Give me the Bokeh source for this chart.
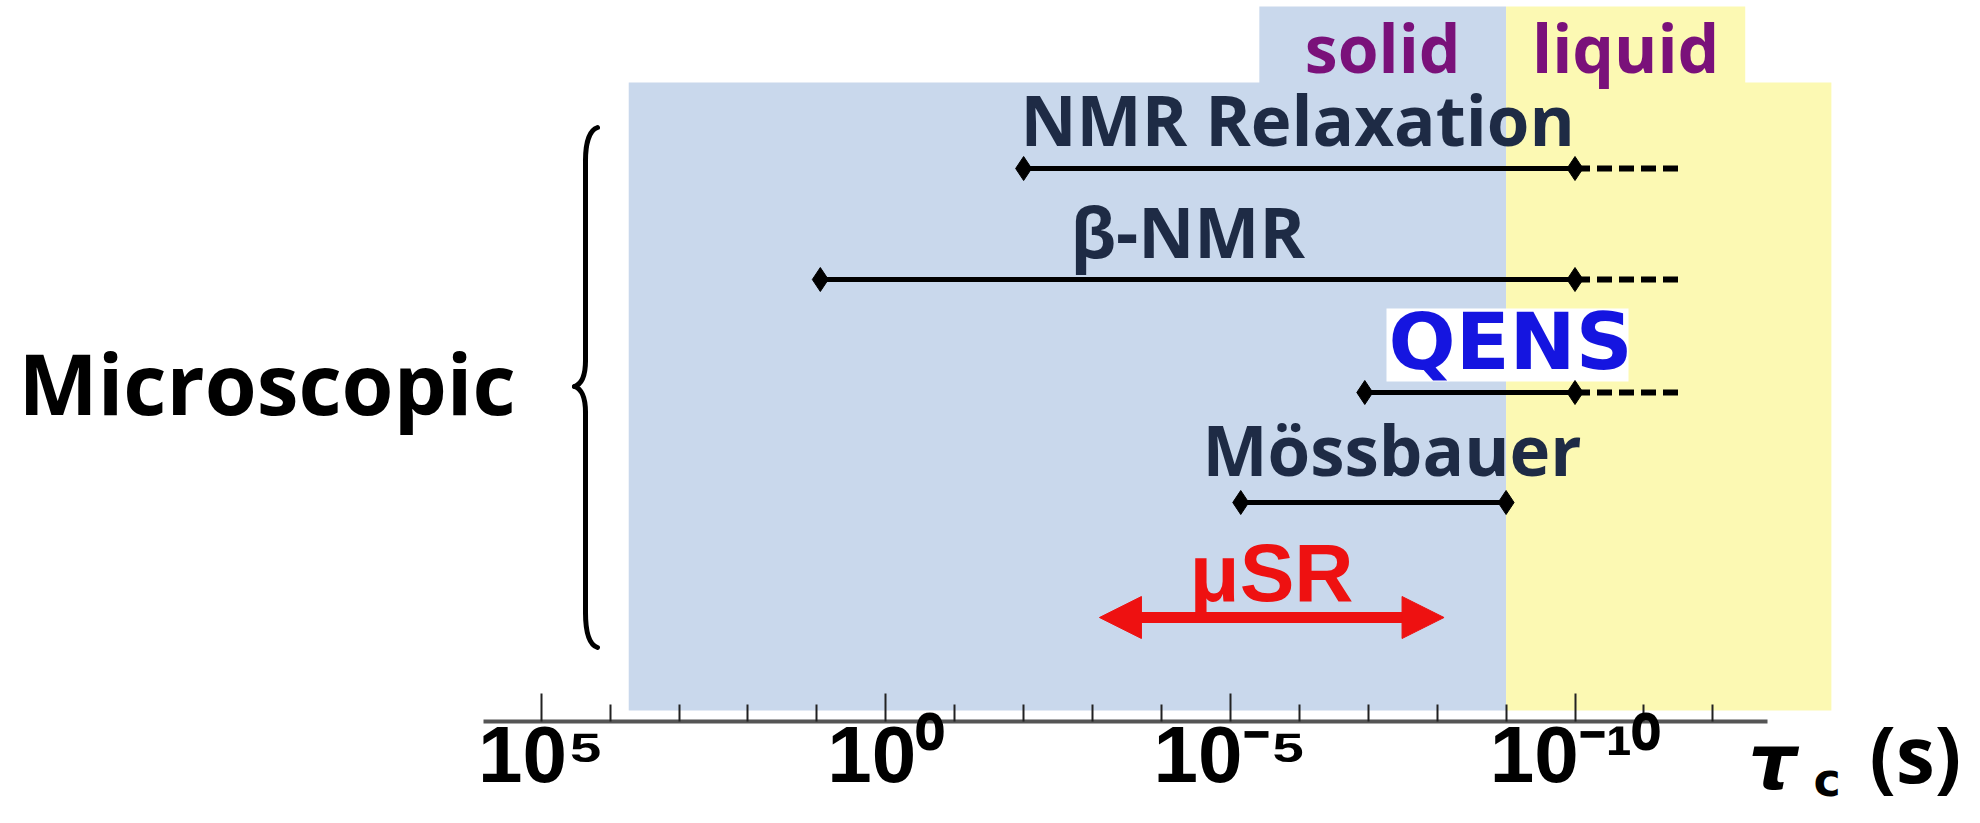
from bokeh.plotting import figure
from bokeh.models import Range1d, FixedTicker
from bokeh.core.properties import value
from bokeh.embed import file_html
from bokeh.resources import INLINE

# ---------------- data (log10 of correlation time tau_c in seconds) ----------------
techniques = ["NMR Relaxation", "β-NMR", "QENS", "Mössbauer", "μSR"]
log_tau_long = [-2.0, 0.95, -6.95, -5.15, -3.1]      # slow end of the window
log_tau_short = [-10.0, -10.0, -10.0, -9.0, -8.1]    # fast end of the window
log_tau_extended = [-11.55, -11.55, -11.5]           # dashed extension (first three)
phase_names = ["solid", "liquid"]
phase_from = [3.73, -9.0]
phase_to = [-9.0, -13.72]
phase_tab_from = [-5.42, -9.0]
phase_tab_to = [-9.0, -12.47]
major_tick_exponents = [5, 0, -5, -10]
minor_tick_exponents = [4, 3, 2, 1, -1, -2, -3, -4, -6, -7, -8, -9, -11, -12]
tick_labels = ["10⁵", "10⁰", "10⁻⁵", "10⁻¹⁰"]
axis_extent = [-12.79, 5.83]
axis_title = ["τ", "c", "(s)"]
group_label = "Microscopic"

# ---------------- layout helpers (pixel positions of the picture) ----------------
PX0, PX_PER_DEC = 540.7, 68.92
W, H = 1964, 807


def ex(px):
    return 5 - (px - PX0) / PX_PER_DEC


# text is placed by its vertical middle; convert a wanted baseline to that middle
MID = {"Open Sans": 0.388, "DejaVu Sans": 0.346, "Liberation Sans": 0.347}


def mid(baseline, size, font):
    return baseline - MID[font] * size


ROW_Y = [168, 279, 392, 502, 617]
LABEL_X = [1020, 1070, 1388, 1202, 1271]
LABEL_BASE = [145, 257, 369, 475, 600]
AXIS_Y = 721
HEAD_LEN = 42 / PX_PER_DEC   # arrow head length (in decades)
HEAD_HALF = 21               # arrow head half width (px)
NAVY = "#1e2b45"
BLUE_BG = "#c9d8ec"
YELLOW_BG = "#fcf9b3"
PURPLE = "#7a117a"
RED = "#ee1111"

p = figure(width=W, height=H,
           x_range=Range1d(ex(0), ex(W)), y_range=Range1d(H, 0),
           output_backend="svg", toolbar_location=None, y_axis_location=None,
           min_border_left=0, min_border_right=0, min_border_top=0, min_border_bottom=0,
           outline_line_color=None, background_fill_color="white", border_fill_color="white")
p.xgrid.visible = False
p.ygrid.visible = False


def label(xs, bases, texts, font, size, color, align="left", style="bold"):
    p.text(x=xs, y=[mid(b, size, font) for b in bases], text=texts,
           text_font=value(font), text_font_style=style, text_font_size=f"{size}px",
           text_color=color, text_align=align, text_baseline="middle")


# phase regions
p.quad(left=phase_from, right=phase_to, top=82, bottom=710,
       fill_color=[BLUE_BG, YELLOW_BG], line_color=None)
p.quad(left=phase_tab_from, right=phase_tab_to, top=6, bottom=83,
       fill_color=[BLUE_BG, YELLOW_BG], line_color=None)
label([(a + b) / 2 for a, b in zip(phase_tab_from, phase_tab_to)], [72, 72],
      phase_names, "Open Sans", 66, PURPLE, align="center")

# white box behind QENS
p.quad(left=[ex(1386)], right=[ex(1628)], top=[308], bottom=[381],
       fill_color="white", line_color=None)

# ranges
n4 = 4
p.segment(x0=log_tau_long[:n4], x1=log_tau_short[:n4], y0=ROW_Y[:n4], y1=ROW_Y[:n4],
          line_color="black", line_width=5)
p.segment(x0=log_tau_short[:3], x1=log_tau_extended, y0=ROW_Y[:3], y1=ROW_Y[:3],
          line_color="black", line_width=6, line_dash="15 7")
p.scatter(x=log_tau_long[:n4] + log_tau_short[:n4], y=ROW_Y[:n4] + ROW_Y[:n4],
          marker="diamond", size=24, color="black")

# muSR double arrow (shaft + two heads built from the window ends)
mu_long, mu_short, mu_y = log_tau_long[4], log_tau_short[4], ROW_Y[4]
p.segment(x0=[mu_long - HEAD_LEN * 0.9], x1=[mu_short + HEAD_LEN * 0.9], y0=[mu_y], y1=[mu_y],
          line_color=RED, line_width=11)
p.patches(xs=[[mu_long, mu_long - HEAD_LEN, mu_long - HEAD_LEN],
              [mu_short, mu_short + HEAD_LEN, mu_short + HEAD_LEN]],
          ys=[[mu_y, mu_y - HEAD_HALF, mu_y + HEAD_HALF],
              [mu_y, mu_y - HEAD_HALF, mu_y + HEAD_HALF]],
          fill_color=RED, line_color=RED, line_width=1)

# technique labels
label([ex(LABEL_X[0]), ex(LABEL_X[1]), ex(LABEL_X[3])],
      [LABEL_BASE[0], LABEL_BASE[1], LABEL_BASE[3]],
      [techniques[0], techniques[1], techniques[3]], "Open Sans", 69, NAVY)
label([ex(LABEL_X[2])], [LABEL_BASE[2]], [techniques[2]], "DejaVu Sans", 79, "#1515e0")
label([ex(LABEL_X[4])], [LABEL_BASE[4]], [techniques[4]], "Liberation Sans", 82, RED,
      align="center")

# group label and brace
label([ex(18)], [415], [group_label], "Open Sans", 84, "black")
p.bezier(x0=[ex(597), ex(585), ex(574), ex(585)], y0=[127, 360, 386, 612],
         x1=[ex(585), ex(574), ex(585), ex(597)], y1=[160, 386, 412, 647],
         cx0=[ex(588), ex(585), ex(580), ex(585)], cy0=[130, 378, 388, 630],
         cx1=[ex(585), ex(580), ex(585), ex(588)], cy1=[145, 384, 394, 644],
         line_color="black", line_width=5, line_cap="round")
p.segment(x0=[ex(585), ex(585)], x1=[ex(585), ex(585)], y0=[160, 412], y1=[360, 612],
          line_color="black", line_width=5, line_cap="round")

# axis (drawn at a fixed location inside the frame)
ax = p.xaxis[0]
ax.fixed_location = AXIS_Y
ax.ticker = FixedTicker(ticks=major_tick_exponents, minor_ticks=minor_tick_exponents)
ax.bounds = tuple(axis_extent)
ax.major_label_overrides = dict(zip(major_tick_exponents, tick_labels))
ax.axis_line_color = "#555555"
ax.axis_line_width = 4
ax.major_tick_in = 28
ax.major_tick_out = 0
ax.minor_tick_in = 17
ax.minor_tick_out = 0
ax.major_tick_line_color = "#222222"
ax.minor_tick_line_color = "#222222"
ax.major_tick_line_width = 2
ax.minor_tick_line_width = 2
ax.major_label_text_font = "Liberation Sans"
ax.major_label_text_font_style = "bold"
ax.major_label_text_font_size = "80px"
ax.major_label_text_color = "black"
ax.major_label_standoff = -12

# axis title: tau with subscript c, then (s) -- kept inside the canvas
label([ex(1748)], [788], [axis_title[0]], "DejaVu Sans", 76, "black", style="bold italic")
label([ex(1813)], [795], [axis_title[1]], "DejaVu Sans", 46, "black")
label([ex(1869)], [783], [axis_title[2]], "Open Sans", 78, "black")

open("out.html", "w").write(file_html(p, INLINE))
